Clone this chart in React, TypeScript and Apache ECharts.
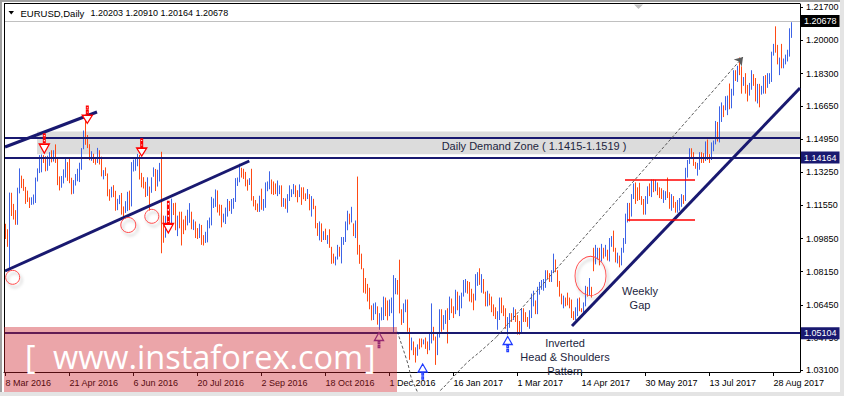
import React, { useEffect, useRef } from "react";
import * as echarts from "echarts";

const FONT = "'Liberation Sans', Arial, sans-serif";

// x-axis: trading-day index, labelled every 32 bars
const tickIndex = [0, 32, 64, 96, 128, 160, 192, 224, 256, 288, 320, 352, 384];
const tickLabels = ["8 Mar 2016", "21 Apr 2016", "6 Jun 2016", "20 Jul 2016", "2 Sep 2016", "18 Oct 2016", "1 Dec 2016", "16 Jan 2017", "1 Mar 2017", "14 Apr 2017", "30 May 2017", "13 Jul 2017", "28 Aug 2017"];
const priceTicks = [1.031, 1.0475, 1.0645, 1.0815, 1.0985, 1.1155, 1.1325, 1.1495, 1.1665, 1.183, 1.2, 1.217];

// Daily EURUSD bars (8 Mar 2016 .. 8 Sep 2017), one row per week
const highs = [
  1.1058, 1.1030, 1.1218, 1.1217,
  1.1160, 1.1128, 1.1243, 1.1342, 1.1305,
  1.1288, 1.1247, 1.1228, 1.1193, 1.1194,
  1.1208, 1.1295, 1.1342, 1.1410, 1.1413,
  1.1410, 1.1404, 1.1407, 1.1425, 1.1435,
  1.1435, 1.1465, 1.1399, 1.1301, 1.1303,
  1.1337, 1.1399, 1.1374, 1.1394, 1.1294,
  1.1282, 1.1313, 1.1340, 1.1371, 1.1446,
  1.1536, 1.1616, 1.1513, 1.1466, 1.1430,
  1.1417, 1.1393, 1.1447, 1.1435, 1.1402,
  1.1333, 1.1347, 1.1316, 1.1235, 1.1248,
  1.1256, 1.1227, 1.1186, 1.1205, 1.1216,
  1.1147, 1.1174, 1.1222, 1.1228, 1.1374,
  1.1387, 1.1395, 1.1416, 1.1411, 1.1319,
  1.1297, 1.1273, 1.1296, 1.1249, 1.1296,
  1.1347, 1.1339, 1.1335, 1.1370, 1.1427,
  1.1100, 1.1099, 1.1125, 1.1133, 1.1187,
  1.1164, 1.1166, 1.1100, 1.1120, 1.1120,
  1.1080, 1.1099, 1.1130, 1.1164, 1.1120,
  1.1080, 1.1070, 1.1036, 1.1058, 1.1052,
  1.1000, 1.1017, 1.1076, 1.1090, 1.1196,
  1.1188, 1.1234, 1.1229, 1.1157, 1.1155,
  1.1110, 1.1141, 1.1185, 1.1175, 1.1185,
  1.1190, 1.1292, 1.1295, 1.1366, 1.1345,
  1.1340, 1.1324, 1.1285, 1.1292, 1.1340,
  1.1200, 1.1180, 1.1162, 1.1202, 1.1238,
  1.1185, 1.1270, 1.1275, 1.1327, 1.1285,
  1.1275, 1.1265, 1.1280, 1.1255, 1.1255,
  1.1190, 1.1188, 1.1210, 1.1255, 1.1235,
  1.1262, 1.1255, 1.1230, 1.1260, 1.1245,
  1.1245, 1.1214, 1.1236, 1.1210, 1.1200,
  1.1186, 1.1150, 1.1062, 1.1070, 1.1060,
  1.1020, 1.1033, 1.1000, 1.1030, 1.0940,
  1.0905, 1.0890, 1.0950, 1.0940, 1.0990,
  1.0990, 1.1070, 1.1125, 1.1110, 1.1145,
  1.1060, 1.1075, 1.1300, 1.0950, 1.0905,
  1.0830, 1.0780, 1.0750, 1.0730, 1.0640,
  1.0650, 1.0655, 1.0635, 1.0600, 1.0630,
  1.0685, 1.0680, 1.0665, 1.0670, 1.0680,
  1.0795, 1.0780, 1.0770, 1.0874, 1.0620,
  1.0650, 1.0670, 1.0670, 1.0525, 1.0475,
  1.0455, 1.0425, 1.0440, 1.0470, 1.0470,
  1.0465, 1.0475, 1.0455, 1.0495, 1.0650,
  1.0530, 1.0480, 1.0495, 1.0620, 1.0620,
  1.0590, 1.0615, 1.0625, 1.0685, 1.0675,
  1.0635, 1.0720, 1.0710, 1.0690, 1.0705,
  1.0770, 1.0775, 1.0765, 1.0760, 1.0725,
  1.0700, 1.0800, 1.0810, 1.0830, 1.0800,
  1.0775, 1.0710, 1.0715, 1.0700, 1.0685,
  1.0645, 1.0630, 1.0610, 1.0680, 1.0680,
  1.0640, 1.0625, 1.0580, 1.0600, 1.0600,
  1.0630, 1.0620, 1.0590, 1.0560, 1.0625,
  1.0625, 1.0605, 1.0580, 1.0615, 1.0700,
  1.0715, 1.0665, 1.0735, 1.0760, 1.0770,
  1.0775, 1.0820, 1.0820, 1.0805, 1.0820,
  1.0905, 1.0875, 1.0820, 1.0765, 1.0700,
  1.0690, 1.0680, 1.0705, 1.0680, 1.0670,
  1.0610, 1.0630, 1.0675, 1.0680, 1.0625,
  1.0655, 1.0740, 1.0735, 1.0780, 1.0735,
  1.0935, 1.0950, 1.0935, 1.0935, 1.0955,
  1.0935, 1.0950, 1.0925, 1.0985, 1.0995,
  1.1023, 1.0935, 1.0910, 1.0895, 1.0935,
  1.0985, 1.1110, 1.1165, 1.1165, 1.1210,
  1.1265, 1.1270, 1.1245, 1.1268, 1.1200,
  1.1185, 1.1200, 1.1250, 1.1265, 1.1285,
  1.1285, 1.1283, 1.1270, 1.1245, 1.1240,
  1.1230, 1.1225, 1.1295, 1.1220, 1.1210,
  1.1200, 1.1170, 1.1180, 1.1190, 1.1210,
  1.1205, 1.1345, 1.1385, 1.1445, 1.1445,
  1.1425, 1.1375, 1.1370, 1.1425, 1.1425,
  1.1420, 1.1480, 1.1490, 1.1415, 1.1475,
  1.1485, 1.1585, 1.1580, 1.1660, 1.1680,
  1.1665, 1.1712, 1.1715, 1.1777, 1.1750,
  1.1845, 1.1845, 1.1868, 1.1910, 1.1865,
  1.1810, 1.1830, 1.1770, 1.1780, 1.1845,
  1.1825, 1.1805, 1.1775, 1.1775, 1.1765,
  1.1815, 1.1820, 1.1830, 1.1830, 1.1940,
  1.1980, 1.2070, 1.1975, 1.1910, 1.1980,
  1.1905, 1.1925, 1.1950, 1.2060, 1.2091,
];

const lows = [
  1.0985, 1.0945, 1.0822, 1.1103,
  1.1085, 1.1058, 1.1058, 1.1219, 1.1246,
  1.1232, 1.1165, 1.1175, 1.1144, 1.1160,
  1.1162, 1.1170, 1.1280, 1.1323, 1.1327,
  1.1375, 1.1332, 1.1335, 1.1360, 1.1378,
  1.1382, 1.1375, 1.1261, 1.1234, 1.1248,
  1.1270, 1.1300, 1.1283, 1.1271, 1.1214,
  1.1217, 1.1259, 1.1281, 1.1277, 1.1340,
  1.1445, 1.1468, 1.1451, 1.1389, 1.1386,
  1.1375, 1.1366, 1.1375, 1.1367, 1.1306,
  1.1291, 1.1308, 1.1204, 1.1181, 1.1198,
  1.1200, 1.1130, 1.1133, 1.1164, 1.1110,
  1.1098, 1.1119, 1.1128, 1.1133, 1.1152,
  1.1331, 1.1335, 1.1358, 1.1290, 1.1250,
  1.1244, 1.1200, 1.1206, 1.1131, 1.1222,
  1.1304, 1.1231, 1.1254, 1.1280, 1.0912,
  1.0966, 1.0992, 1.1050, 1.1051, 1.1060,
  1.1108, 1.1030, 1.1000, 1.1040, 1.0952,
  1.1010, 1.1030, 1.1055, 1.1068, 1.1035,
  1.1031, 1.0990, 1.0985, 1.0990, 1.0955,
  1.0952, 1.0965, 1.0968, 1.1040, 1.1055,
  1.1144, 1.1150, 1.1121, 1.1105, 1.1045,
  1.1070, 1.1062, 1.1100, 1.1128, 1.1114,
  1.1140, 1.1175, 1.1257, 1.1276, 1.1300,
  1.1293, 1.1255, 1.1233, 1.1262, 1.1182,
  1.1152, 1.1133, 1.1124, 1.1124, 1.1135,
  1.1130, 1.1145, 1.1230, 1.1240, 1.1215,
  1.1211, 1.1215, 1.1205, 1.1215, 1.1150,
  1.1150, 1.1140, 1.1120, 1.1180, 1.1200,
  1.1215, 1.1200, 1.1173, 1.1200, 1.1160,
  1.1189, 1.1180, 1.1190, 1.1132, 1.1100,
  1.1138, 1.1040, 1.1001, 1.0978, 1.0970,
  1.0980, 1.0980, 1.0960, 1.0940, 1.0858,
  1.0860, 1.0850, 1.0880, 1.0895, 1.0860,
  1.0955, 1.0970, 1.1030, 1.1060, 1.1070,
  1.1000, 1.0990, 1.0905, 1.0858, 1.0830,
  1.0710, 1.0705, 1.0665, 1.0625, 1.0568,
  1.0570, 1.0600, 1.0546, 1.0520, 1.0568,
  1.0570, 1.0590, 1.0568, 1.0590, 1.0605,
  1.0505, 1.0702, 1.0700, 1.0604, 1.0545,
  1.0555, 1.0610, 1.0510, 1.0366, 1.0415,
  1.0390, 1.0352, 1.0387, 1.0420, 1.0430,
  1.0445, 1.0422, 1.0395, 1.0415, 1.0450,
  1.0465, 1.0340, 1.0390, 1.0480, 1.0510,
  1.0520, 1.0550, 1.0450, 1.0570, 1.0605,
  1.0580, 1.0600, 1.0620, 1.0590, 1.0630,
  1.0690, 1.0710, 1.0705, 1.0665, 1.0660,
  1.0620, 1.0670, 1.0745, 1.0750, 1.0710,
  1.0705, 1.0640, 1.0640, 1.0645, 1.0610,
  1.0590, 1.0575, 1.0520, 1.0570, 1.0605,
  1.0590, 1.0525, 1.0495, 1.0530, 1.0560,
  1.0570, 1.0560, 1.0495, 1.0495, 1.0500,
  1.0560, 1.0560, 1.0535, 1.0525, 1.0580,
  1.0640, 1.0600, 1.0600, 1.0700, 1.0725,
  1.0720, 1.0735, 1.0780, 1.0765, 1.0765,
  1.0810, 1.0815, 1.0740, 1.0690, 1.0650,
  1.0630, 1.0640, 1.0645, 1.0630, 1.0580,
  1.0570, 1.0570, 1.0590, 1.0615, 1.0610,
  1.0600, 1.0640, 1.0690, 1.0695, 1.0685,
  1.0820, 1.0855, 1.0880, 1.0850, 1.0870,
  1.0885, 1.0895, 1.0875, 1.0870, 1.0945,
  1.0920, 1.0865, 1.0860, 1.0840, 1.0850,
  1.0915, 1.0960, 1.1070, 1.1075, 1.1100,
  1.1190, 1.1165, 1.1180, 1.1185, 1.1160,
  1.1110, 1.1110, 1.1165, 1.1205, 1.1200,
  1.1225, 1.1230, 1.1210, 1.1195, 1.1190,
  1.1170, 1.1185, 1.1195, 1.1140, 1.1130,
  1.1145, 1.1120, 1.1120, 1.1130, 1.1150,
  1.1165, 1.1180, 1.1300, 1.1370, 1.1395,
  1.1360, 1.1345, 1.1310, 1.1340, 1.1375,
  1.1375, 1.1385, 1.1390, 1.1375, 1.1390,
  1.1435, 1.1470, 1.1485, 1.1480, 1.1585,
  1.1610, 1.1645, 1.1620, 1.1650, 1.1655,
  1.1720, 1.1795, 1.1790, 1.1825, 1.1730,
  1.1770, 1.1730, 1.1690, 1.1720, 1.1750,
  1.1770, 1.1690, 1.1680, 1.1660, 1.1725,
  1.1730, 1.1730, 1.1760, 1.1780, 1.1790,
  1.1925, 1.1940, 1.1880, 1.1825, 1.1860,
  1.1860, 1.1880, 1.1895, 1.1920, 1.2016,
];

// 1 = bullish bar (close > open), 0 = bearish
const upBars = [
  0, 0, 1, 0,
  0, 0, 1, 1, 0,  0, 0, 0, 0, 1,  1, 1, 1, 1, 1,  0, 0, 1, 1, 0,  1, 0, 0, 0, 1,
  1, 1, 0, 0, 0,  1, 1, 1, 1, 1,  1, 0, 0, 0, 1,  0, 0, 1, 0, 0,  1, 0, 0, 0, 1,
  0, 0, 1, 1, 0,  0, 1, 1, 0, 1,  1, 1, 1, 0, 0,  0, 0, 1, 0, 1,  1, 0, 1, 1, 0,
  0, 1, 1, 0, 1,  0, 0, 1, 0, 0,  0, 0, 1, 1, 0,  1, 0, 0, 1, 0,  0, 1, 1, 1, 1,
  1, 1, 0, 0, 0,  1, 1, 1, 0, 1,  1, 1, 1, 1, 0,  0, 0, 0, 1, 0,  0, 0, 0, 1, 0,
  1, 1, 1, 1, 0,  0, 0, 1, 1, 0,  1, 0, 1, 1, 1,  1, 0, 0, 1, 0,  0, 0, 1, 0, 1,
  0, 0, 0, 1, 0,  1, 0, 1, 0, 0,  0, 1, 1, 0, 1,  1, 1, 1, 0, 1,  0, 1, 0, 0, 0,
  0, 0, 0, 0, 0,  1, 1, 0, 1, 1,  1, 0, 0, 1, 1,  1, 1, 0, 0, 0,  1, 1, 0, 0, 1,
  0, 0, 1, 0, 0,  1, 0, 0, 1, 1,  0, 0, 1, 1, 0,  1, 1, 0, 1, 0,  0, 1, 0, 1, 1,
  1, 1, 0, 0, 0,  0, 1, 1, 0, 1,  0, 0, 1, 0, 0,  0, 0, 1, 1, 0,  0, 0, 1, 1, 0,
  1, 0, 0, 0, 1,  0, 0, 0, 1, 1,  1, 0, 1, 1, 1,  1, 1, 0, 0, 1,  1, 0, 0, 0, 0,
  1, 0, 0, 0, 0,  0, 1, 1, 0, 0,  1, 1, 0, 1, 0,  0, 1, 1, 0, 1,  0, 1, 0, 1, 1,
  0, 0, 1, 0, 1,  1, 1, 1, 0, 1,  1, 0, 0, 0, 0,  0, 1, 1, 0, 1,  0, 1, 0, 0, 0,
  1, 1, 0, 0, 1,  0, 0, 1, 1, 1,  0, 1, 1, 1, 0,  0, 0, 1, 1, 0,  0, 1, 0, 0, 1,
  1, 1, 0, 1, 1,  0, 1, 1, 0, 1,  1, 0, 1, 0, 0,  1, 0, 0, 1, 1,  0, 0, 1, 0, 1,
  1, 0, 1, 1, 1,  1, 0, 0, 1, 0,  1, 1, 1, 1, 1,
];

// horizontal price levels
const lastPrice = 1.20678;
const zoneTop = 1.1533;
const zoneBottom = 1.14164;
const supportLevel = 1.05104;

const NAVY = "#191970";
const UP = "#3d63e6";
const DOWN = "#ff4a14";

const downArrow = "path://M4,0 L6,0 L6,3 L4,3 Z M4,5 L6,5 L6,8 L4,8 Z M0,10 L10,10 L5,19 Z";
const downArrowLong = "path://M4,0 L6,0 L6,4 L4,4 Z M4,6 L6,6 L6,10 L4,10 Z M4,12 L6,12 L6,16 L4,16 Z M4,18 L6,18 L6,21 L4,21 Z M0,22 L10,22 L5,31 Z";
const upArrow = "path://M5,0 L10,8 L0,8 Z M4,9 L6,9 L6,11 L4,11 Z M4,13 L6,13 L6,15 L4,15 Z";

function circleMark(coord: number[], size: number | number[]) {
  return {
    coord,
    symbol: "circle",
    symbolSize: size,
    itemStyle: {
      color: "rgba(255,255,255,0)",
      borderColor: "#ff4a4a",
      borderWidth: 1,
      shadowBlur: 3,
      shadowColor: "rgba(0,0,0,0.3)",
      shadowOffsetX: 2,
      shadowOffsetY: 3,
    },
  };
}

function arrowMark(coord: number[], symbol: string, size: number[], color: string) {
  return {
    coord,
    symbol,
    symbolSize: size,
    itemStyle: { color: "#ffffff", borderColor: color, borderWidth: 1.3 },
  };
}

function textMark(coord: number[], text: string) {
  return {
    coord,
    symbol: "rect",
    symbolSize: 1,
    itemStyle: { color: "rgba(0,0,0,0)" },
    label: {
      show: true,
      position: "inside",
      formatter: text,
      color: "#1c2540",
      fontSize: 11,
      lineHeight: 14,
      fontFamily: FONT,
    },
  };
}

function priceLabel(value: number, bg: string) {
  return {
    show: true,
    position: "end",
    distance: 1,
    formatter: value.toFixed(5),
    color: "#ffffff",
    backgroundColor: bg,
    padding: [2, 3, 1, 3],
    fontSize: 9,
    fontFamily: FONT,
  };
}

function segment(a: number[], b: number[], color: string, width: number) {
  return [
    { coord: a, lineStyle: { color, width, type: "solid" } },
    { coord: b },
  ];
}

export default function App() {
  const ref = useRef<HTMLDivElement>(null);

  useEffect(() => {
    document.body.style.margin = "0";
    const chart = echarts.init(ref.current!, null, { renderer: "svg" });

    const barData = highs.map((h, i) => [i, lows[i], h, upBars[i]]);

    const option: any = {
      animation: false,
      backgroundColor: "#ffffff",
      grid: { left: 4, top: 4, right: 44, bottom: 24, show: false },
      xAxis: {
        type: "value",
        min: -0.75,
        max: 397.25,
        splitLine: { show: false },
        axisLine: { show: true, onZero: false, lineStyle: { color: "#000", width: 1 } },
        axisTick: { show: true, length: 4, lineStyle: { color: "#000" }, customValues: tickIndex },
        axisLabel: {
          customValues: tickIndex,
          formatter: (v: number) => tickLabels[tickIndex.indexOf(Math.round(v))] ?? "",
          align: "left",
          margin: 6,
          fontSize: 9,
          color: "#000",
          fontFamily: FONT,
        },
      },
      yAxis: {
        type: "value",
        position: "right",
        min: 1.0301,
        max: 1.2187,
        splitLine: { show: false },
        axisLine: { show: true, onZero: false, lineStyle: { color: "#000", width: 1 } },
        axisTick: { show: true, length: 3, lineStyle: { color: "#000" }, customValues: priceTicks },
        axisLabel: {
          customValues: priceTicks,
          formatter: (v: number) => v.toFixed(5),
          margin: 6,
          fontSize: 9,
          color: "#000",
          fontFamily: FONT,
        },
      },
      series: [
        {
          type: "line",
          data: [],
          z: 1,
          markArea: {
            silent: true,
            itemStyle: { color: "#dcdcdc" },
            data: [[{ coord: [15.75, zoneBottom] }, { coord: [397.25, zoneTop] }]],
          },
        },
        {
          type: "custom",
          z: 3,
          clip: true,
          data: barData,
          encode: { x: 0, y: [1, 2] },
          renderItem: (params: any, api: any) => {
            const i = api.value(0);
            const lo = api.coord([i, api.value(1)]);
            const hi = api.coord([i, api.value(2)]);
            return {
              type: "line",
              shape: { x1: lo[0], y1: lo[1] + 0.5, x2: hi[0], y2: hi[1] - 0.5 },
              style: { stroke: api.value(3) ? UP : DOWN, lineWidth: 1 },
            };
          },
        },
        {
          type: "line",
          data: [],
          z: 5,
          markLine: {
            silent: true,
            symbol: "none",
            label: { show: false },
            data: [
              { yAxis: lastPrice, lineStyle: { color: "#c0c0c0", width: 1, type: "solid" }, label: priceLabel(lastPrice, "#000000") },
              { yAxis: zoneTop, lineStyle: { color: NAVY, width: 2, type: "solid" }, label: { show: false } },
              { yAxis: zoneBottom, lineStyle: { color: NAVY, width: 2, type: "solid" }, label: priceLabel(zoneBottom, NAVY) },
              { yAxis: supportLevel, lineStyle: { color: NAVY, width: 2, type: "solid" }, label: priceLabel(supportLevel, NAVY) },
              segment([-0.25, 1.14541], [45.75, 1.16335], NAVY, 3),
              segment([-0.25, 1.08186], [121.9, 1.13824], NAVY, 3),
              segment([283.25, 1.05367], [397.25, 1.17565], NAVY, 3),
              segment([309.75, 1.12886], [344.75, 1.12886], "#ff0000", 1.5),
              segment([310.75, 1.10836], [344.75, 1.10836], "#ff0000", 1.5),
            ],
          },
          markPoint: {
            silent: true,
            label: { show: false },
            data: [
              arrowMark([19.4, 1.1471], downArrow, [10, 19], "#ff0000"),
              arrowMark([40.9, 1.16191], downArrow, [10, 17], "#ff0000"),
              arrowMark([68.1, 1.14505], downArrow, [10, 17], "#ff0000"),
              arrowMark([81.4, 1.10933], downArrowLong, [10, 31], "#ff0000"),
              arrowMark([186.75, 1.0465], upArrow, [9, 15], "#7030a0"),
              arrowMark([208.6, 1.03035], upArrow, [9, 15], "#1f3bff"),
              arrowMark([251.1, 1.04445], upArrow, [9, 15], "#1f3bff"),
              circleMark([3.6, 1.07863], 14),
              circleMark([61.4, 1.10544], 15),
              circleMark([73.15, 1.10989], 14),
              circleMark([292.5, 1.0793], [31, 39]),
              textMark([264.25, 1.14592], "Daily Demand Zone ( 1.1415-1.1519 )"),
              textMark([317.25, 1.06777], "Weekly\nGap"),
              textMark([279.75, 1.03763], "Inverted\nHead & Shoulders\nPattern"),
            ],
          },
        },
        {
          type: "line",
          z: 4,
          clip: false,
          smooth: 0.5,
          symbol: "none",
          lineStyle: { color: "#5a5a5a", width: 1, type: [3, 2] },
          data: [
            [195.9, 1.05075],
            [200.6, 1.03625],
            [204.75, 1.02256],
            [210.75, 1.01524],
            [217.25, 1.02052],
            [223.75, 1.02739],
            [230.6, 1.03471],
            [237.25, 1.04049],
            [245.6, 1.04819],
          ],
          markLine: {
            silent: true,
            symbol: ["none", "arrow"],
            symbolSize: 8,
            label: { show: false },
            lineStyle: { color: "#5a5a5a", width: 1, type: [3, 2] },
            data: [[{ coord: [245.6, 1.04819] }, { coord: [368.75, 1.19154] }]],
          },
        },
      ],
      graphic: [
        { type: "rect", shape: { x: 0, y: 0, width: 844, height: 2 }, style: { fill: "#a0a0a0" }, z: 100 },
        { type: "rect", shape: { x: 0, y: 0, width: 2, height: 396 }, style: { fill: "#a0a0a0" }, z: 100 },
        { type: "rect", shape: { x: 840, y: 0, width: 4, height: 396 }, style: { fill: "#e4e4e4" }, z: 100 },
        { type: "rect", shape: { x: 0, y: 392, width: 844, height: 4 }, style: { fill: "#e4e4e4" }, z: 100 },
        { type: "line", shape: { x1: 4, y1: 3.5, x2: 800, y2: 3.5 }, style: { stroke: "#000", lineWidth: 1 }, z: 100 },
        { type: "line", shape: { x1: 4.5, y1: 3, x2: 4.5, y2: 372 }, style: { stroke: "#000", lineWidth: 1 }, z: 100 },
        { type: "polygon", shape: { points: [[8.5, 11], [14, 11], [11.25, 14.5]] }, style: { fill: "#000" }, z: 100 },
        { type: "polygon", shape: { points: [[634, 4.5], [643, 4.5], [638.5, 9]] }, style: { fill: "#c0c0c0" }, z: 100 },
        {
          type: "text",
          x: 20.5,
          y: 13,
          style: { text: "EURUSD,Daily", font: `9.5px ${FONT}`, fill: "#000", verticalAlign: "middle" },
          z: 100,
        },
        {
          type: "text",
          x: 90.5,
          y: 13,
          style: { text: "1.20203 1.20910 1.20164 1.20678", font: `9px ${FONT}`, fill: "#000", verticalAlign: "middle" },
          z: 100,
        },
        { type: "rect", shape: { x: 4, y: 327, width: 393, height: 65 }, style: { fill: "rgba(205,30,40,0.4)" }, z: 200 },
        {
          type: "text",
          x: 25,
          y: 356,
          style: { text: "[", font: `32px 'Open Sans', sans-serif`, fill: "#ffffff", verticalAlign: "middle" },
          z: 201,
        },
        {
          type: "text",
          x: 53,
          y: 356,
          style: { text: "www.instaforex.com", font: `32.5px 'Open Sans', sans-serif`, fill: "#ffffff", verticalAlign: "middle" },
          z: 201,
        },
        {
          type: "text",
          x: 365,
          y: 356,
          style: { text: "]", font: `32px 'Open Sans', sans-serif`, fill: "#ffffff", verticalAlign: "middle" },
          z: 201,
        },
      ],
    };

    chart.setOption(option);
    return () => chart.dispose();
  }, []);

  return <div ref={ref} style={{ width: 844, height: 396, background: "#fff" }} />;
}
